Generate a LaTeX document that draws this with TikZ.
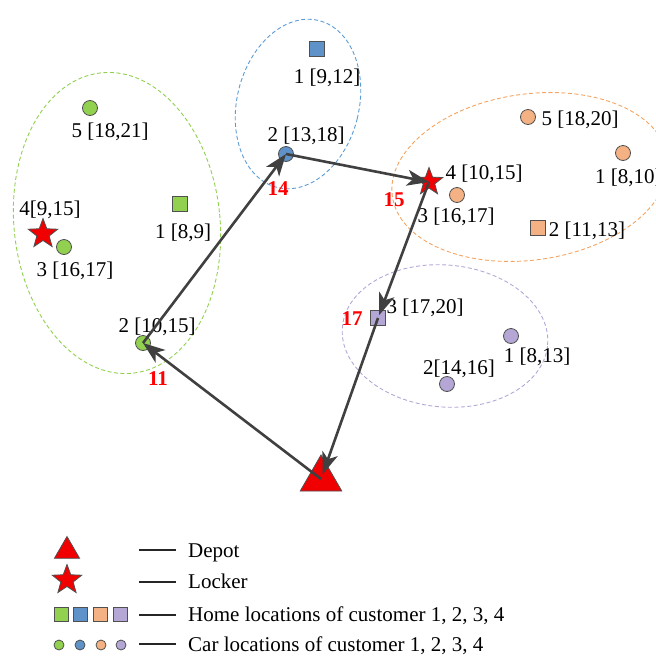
\documentclass[tikz,border=0pt]{standalone}
\usepackage{fontspec}
\setmainfont{Liberation Serif}
\usetikzlibrary{shapes.geometric,arrows.meta}
\definecolor{cgreen}{HTML}{92D050}
\definecolor{cblue}{HTML}{5E92C8}
\definecolor{corange}{HTML}{F4B183}
\definecolor{cpurple}{HTML}{B4A7D6}
\definecolor{zgreen}{HTML}{92D050}
\definecolor{zblue}{HTML}{5B9BD5}
\definecolor{zorange}{HTML}{F4A460}
\definecolor{zpurple}{HTML}{B4A7D6}
\definecolor{cred}{HTML}{F00000}
\definecolor{mkline}{HTML}{505050}
\definecolor{routecol}{HTML}{404040}
\begin{document}
\begin{tikzpicture}[x=1pt,y=-1pt,
  font=\fontsize{21}{24}\selectfont,
  mk/.style={draw=mkline,line width=0.8pt,inner sep=0pt,outer sep=0pt},
  carpt/.style={mk,circle,minimum size=15pt},
  homept/.style={mk,rectangle,minimum size=15.5pt},
  lockerpt/.style={mk,star,star points=5,star point ratio=2.4,fill=cred,minimum size=31pt},
  depotpt/.style={mk,regular polygon,regular polygon sides=3,fill=cred,minimum size=48pt},
  lbl/.style={anchor=base,inner sep=0pt},
  ord/.style={lbl,text=red,font=\fontsize{21}{24}\selectfont\bfseries},
  route/.style={draw=routecol,line width=2.6pt,-{Stealth[length=22pt,width=16pt,inset=6pt]}},
  zone/.style={dash pattern=on 4pt off 2.5pt,line width=0.9pt},
  legline/.style={draw=black!85,line width=1.5pt},
  legtext/.style={anchor=base west,inner sep=0pt}
  ]
\useasboundingbox (0,0) rectangle (656,662);

% zones
\draw[zone,draw=zgreen,rotate around={6:(117,223)}] (117,223) ellipse [x radius=103pt, y radius=151pt];
\draw[zone,draw=zblue,rotate around={-14:(298,104)}] (298,104) ellipse [x radius=61pt, y radius=86pt];
\draw[zone,draw=zorange,rotate around={8:(530,177)}] (530,177) ellipse [x radius=139pt, y radius=83pt];
\draw[zone,draw=zpurple,rotate around={-5:(445,336)}] (445,336) ellipse [x radius=103pt, y radius=71pt];

% customer 1 (green)
\node[carpt,fill=cgreen] (g5) at (90,108) {};
\node[lbl] (g5l) at (110,137) {5 [18,21]};
\node[homept,fill=cgreen] (g1) at (180,204) {};
\node[lbl] (g1l) at (183,238) {1 [8,9]};
\node[lockerpt] (gs) at (43,234) {};
\node[lbl] (gsl) at (50,215) {4[9,15]};
\node[carpt,fill=cgreen] (g3) at (64,247) {};
\node[lbl] (g3l) at (75,276) {3 [16,17]};
\node[carpt,fill=cgreen] (g2) at (143,343) {};
\node[lbl] (g2l) at (157,332) {2 [10,15]};

% customer 2 (blue)
\node[homept,fill=cblue] (b1) at (317,49) {};
\node[lbl] (b1l) at (327,83) {1 [9,12]};
\node[carpt,fill=cblue] (b2) at (286,154) {};
\node[lbl] (b2l) at (306,141) {2 [13,18]};

% customer 3 (orange)
\node[carpt,fill=corange] (o5) at (528,117) {};
\node[lbl] (o5l) at (580,125) {5 [18,20]};
\node[carpt,fill=corange] (o1) at (623,153) {};
\node[legtext] (o1l) at (595,183) {1 [8,10]};
\node[lockerpt,minimum size=29pt] (os) at (429,182) {};
\node[lbl] (osl) at (484,179) {4 [10,15]};
\node[carpt,fill=corange] (o3) at (457,195) {};
\node[lbl] (o3l) at (456,222) {3 [16,17]};
\node[homept,fill=corange] (o2) at (538,228) {};
\node[lbl] (o2l) at (587,236) {2 [11,13]};

% customer 4 (purple)
\node[homept,fill=cpurple] (p3) at (378,318) {};
\node[lbl] (p3l) at (425,313) {3 [17,20]};
\node[carpt,fill=cpurple] (p1) at (511,336) {};
\node[lbl] (p1l) at (537,362) {1 [8,13]};
\node[carpt,fill=cpurple] (p2) at (447,384) {};
\node[lbl] (p2l) at (459,374) {2[14,16]};

% depot
\node[depotpt] (dep) at (321,479) {};

% route
\draw[route] (dep.center) -- (g2.center);
\draw[route] (g2.center) -- (b2.center);
\draw[route] (b2.center) -- (os.center);
\draw[route,shorten >=3pt] (os.center) -- (p3.center);
\draw[route,shorten >=5pt] (p3.center) -- (dep.center);

% order labels
\node[ord] (n11) at (158,385) {11};
\node[ord] (n14) at (278,195) {14};
\node[ord] (n15) at (394,206) {15};
\node[ord] (n17) at (352,325) {17};

% legend
\node[depotpt,minimum size=29pt] (ldep) at (67,551) {};
\node[lockerpt] (lstar) at (67,580) {};
\node[homept,fill=cgreen,minimum size=14pt] (lh1) at (61,614) {};
\node[homept,fill=cblue,minimum size=14pt] (lh2) at (80,614) {};
\node[homept,fill=corange,minimum size=14pt] (lh3) at (100,614) {};
\node[homept,fill=cpurple,minimum size=14pt] (lh4) at (120,614) {};
\node[carpt,fill=cgreen,minimum size=10pt] (lc1) at (59,645) {};
\node[carpt,fill=cblue,minimum size=10pt] (lc2) at (80,645) {};
\node[carpt,fill=corange,minimum size=10pt] (lc3) at (101,645) {};
\node[carpt,fill=cpurple,minimum size=10pt] (lc4) at (121,645) {};

\coordinate (la1) at (139,550); \coordinate (lb1) at (176,550);
\coordinate (la2) at (139,582); \coordinate (lb2) at (176,582);
\coordinate (la3) at (139,615); \coordinate (lb3) at (176,615);
\coordinate (la4) at (139,644); \coordinate (lb4) at (176,644);
\draw[legline] (la1) -- (lb1);
\draw[legline] (la2) -- (lb2);
\draw[legline] (la3) -- (lb3);
\draw[legline] (la4) -- (lb4);

\node[legtext] (t1) at (188,557) {Depot};
\node[legtext] (t2) at (188,588) {Locker};
\node[legtext] (t3) at (188,621) {Home locations of customer 1, 2, 3, 4};
\node[legtext] (t4) at (188,651) {Car locations of customer 1, 2, 3, 4};
\end{tikzpicture}
\end{document}
